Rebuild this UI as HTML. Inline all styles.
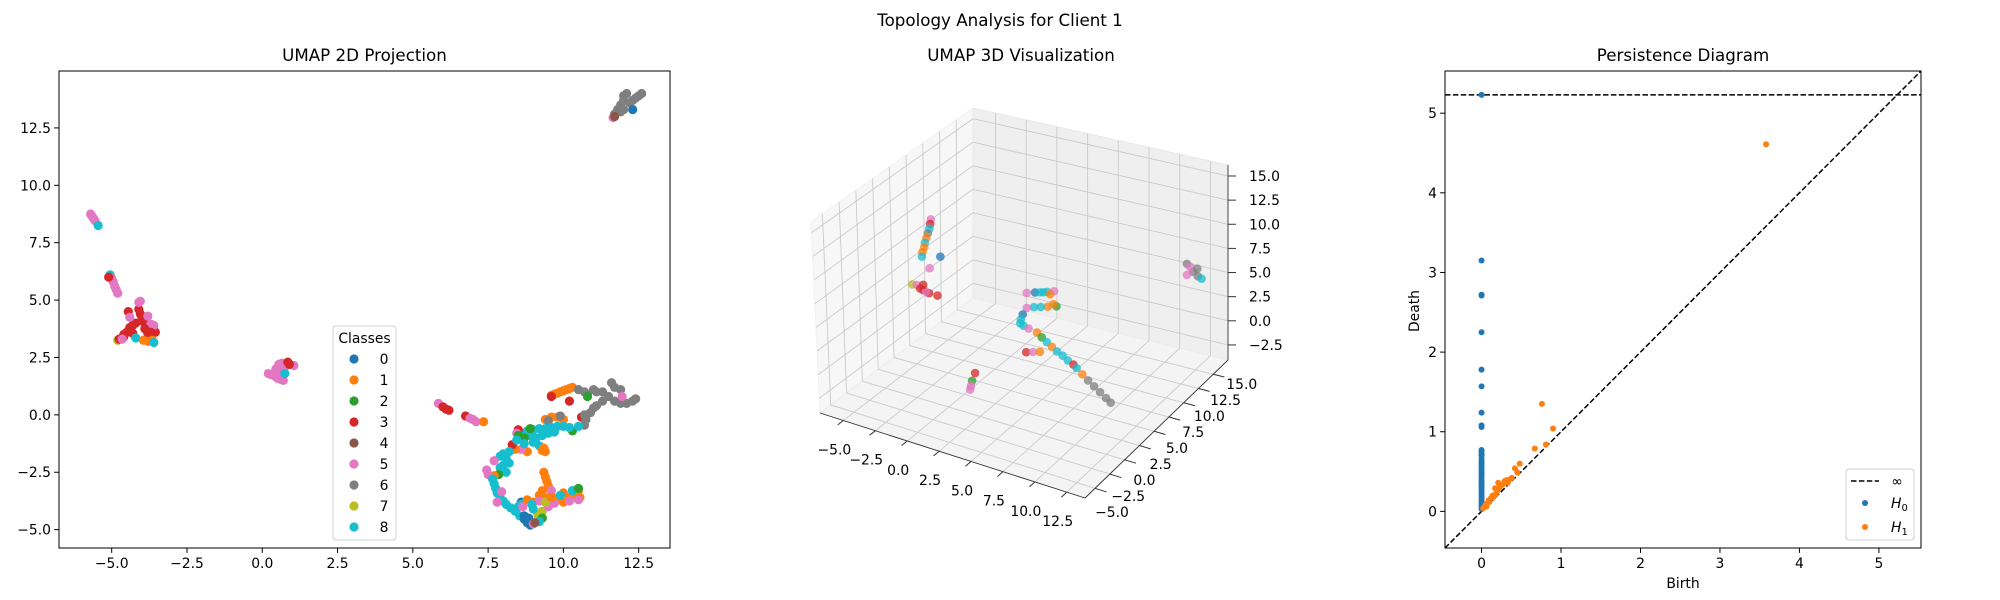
<!DOCTYPE html>
<html><head><meta charset="utf-8"><style>
html,body{margin:0;padding:0;background:#fff;}
svg{display:block;font-family:"DejaVu Sans","Liberation Sans",sans-serif;}
</style></head><body>
<svg id="fig" xmlns="http://www.w3.org/2000/svg" width="2000" height="600" viewBox="0 0 2000 600">
<rect x="0" y="0" width="2000" height="600" fill="#fff"/>
<text x="1000" y="26" font-size="16.7" text-anchor="middle">Topology Analysis for Client 1</text>
<g id="p2d"></g>
<g id="p3d"></g>
<g id="ppd"></g>
</svg>
<script>
const palette=["#1f77b4","#ff7f0e","#2ca02c","#d62728","#8c564b","#e377c2","#7f7f7f","#bcbd22","#17becf"];
const classLabels=["0","1","2","3","4","5","6","7","8"];
const ticks2dX=[-5,-2.5,0,2.5,5,7.5,10,12.5];
const ticks2dY=[-5,-2.5,0,2.5,5,7.5,10,12.5];
const umap2d=[
[11.7,13.1,6],[11.8,13.3,6],[11.9,13.5,6],[12.0,13.7,6],[12.0,13.9,6],[12.1,14.0,6],[12.2,13.6,6],[12.4,13.8,6],[12.5,13.9,6],[12.6,14.0,6],[12.3,13.7,6],[11.9,13.2,6],[12.0,13.3,6],[12.3,13.3,0],[11.65,12.95,5],[11.7,13.0,4],
[-5.7,8.75,5],[-5.65,8.65,5],[-5.6,8.55,5],[-5.55,8.45,5],[-5.45,8.25,8],
[-5.05,6.1,8],[-5.0,5.95,5],[-4.95,5.8,5],[-4.9,5.6,5],[-4.85,5.45,5],[-4.8,5.3,5],[-5.1,6.0,3],
[-4.8,3.25,7],[-4.75,3.3,3],[-4.6,3.4,3],[-4.5,3.6,3],[-4.4,3.8,3],[-4.3,3.9,3],[-4.2,4.0,3],[-4.0,4.1,3],[-3.9,4.0,3],[-3.8,3.9,3],[-3.6,3.7,3],[-3.55,3.6,3],[-4.1,4.6,3],[-4.05,4.4,3],[-4.0,4.3,3],[-4.45,4.5,3],[-4.4,4.25,5],[-4.1,4.9,5],[-4.05,4.95,5],[-3.8,4.3,5],[-3.7,3.95,5],[-3.6,3.9,5],[-3.9,3.75,3],[-4.6,3.5,3],[-4.3,3.55,3],[-3.8,3.55,3],[-3.7,3.6,3],[-4.2,3.35,8],[-3.95,3.25,1],[-3.8,3.2,1],[-3.65,3.25,1],[-3.6,3.15,8],[-4.65,3.3,5],
[0.2,1.8,5],[0.3,1.75,5],[0.4,1.7,5],[0.5,1.6,5],[0.6,1.55,5],[0.7,1.5,5],[0.45,2.0,5],[0.55,2.2,5],[0.65,2.25,5],[0.75,2.1,5],[0.9,2.2,5],[1.05,2.15,5],[0.6,1.9,5],[0.75,1.8,8],[0.85,2.3,3],[0.9,2.2,3],
[5.85,0.5,5],[6.0,0.35,3],[6.1,0.25,3],[6.2,0.2,3],[6.75,-0.05,3],[6.9,-0.15,5],[7.0,-0.2,5],[7.1,-0.3,5],[7.35,-0.3,1],
[9.6,0.85,1],[9.7,0.9,1],[9.8,0.95,1],[9.9,1.0,1],[10.0,1.05,1],[10.1,1.1,1],[10.2,1.15,1],[10.3,1.2,1],[9.6,0.8,3],
[10.5,1.1,6],[10.7,1.0,6],[10.8,0.9,6],[11.0,1.1,6],[11.1,1.0,6],[11.3,1.0,6],[11.6,1.4,6],[11.7,1.2,6],[11.9,1.1,6],[11.5,0.8,6],[11.3,0.6,6],[11.1,0.4,6],[11.0,0.3,6],[10.9,0.1,6],[11.7,0.6,6],[11.9,0.5,6],[12.1,0.5,6],[12.3,0.6,6],[12.4,0.7,6],[11.95,0.8,5],[10.8,0.8,2],[10.2,0.6,3],
[9.4,-0.2,1],[9.6,-0.1,1],[9.8,-0.1,1],[10.0,-0.2,1],[9.5,-0.25,6],[9.9,-0.05,6],[10.6,-0.1,3],[10.7,0.0,6],[10.75,-0.2,6],[10.7,-0.45,6],[10.3,-0.7,2],[10.5,-0.5,8],
[8.6,-0.8,8],[8.8,-0.7,8],[9.0,-0.65,8],[9.2,-0.6,8],[9.4,-0.6,8],[9.6,-0.55,8],[9.8,-0.5,8],[10.0,-0.5,8],[10.2,-0.55,8],[8.9,-0.9,8],[9.1,-1.0,8],[9.3,-0.9,8],[9.5,-0.8,8],[9.7,-0.75,8],[9.0,-1.2,8],[9.2,-1.35,8],[8.7,-1.0,2],[8.9,-0.6,2],[8.5,-0.65,3],[8.45,-0.8,5],[8.5,-0.9,2],[9.35,-1.45,1],[9.4,-1.6,1],[9.3,-1.55,1],[8.8,-1.6,1],[8.6,-1.5,5],[8.4,-1.5,1],[8.3,-1.3,3],[8.7,-1.25,8],[8.45,-1.1,8],
[8.2,-1.6,8],[8.0,-1.7,8],[7.9,-1.8,8],[8.1,-1.9,8],[8.2,-2.1,8],[8.0,-2.2,8],[7.9,-2.3,8],[8.1,-2.5,8],[7.85,-2.6,2],[7.7,-2.65,1],[7.5,-2.6,5],[7.45,-2.4,5],[7.7,-2.0,5],[7.65,-2.8,8],[7.7,-3.0,8],[7.75,-3.2,8],[7.8,-3.4,8],[7.9,-3.6,8],[8.0,-3.75,8],[8.1,-3.9,8],[8.25,-4.05,8],[8.4,-4.2,8],[8.55,-4.4,8],[8.7,-4.55,0],[8.8,-4.7,0],[8.9,-4.8,0],[8.7,-4.4,0],[8.6,-3.8,0],[8.85,-4.5,0],[9.0,-4.75,5],[9.2,-4.6,8],[8.5,-4.0,8],[7.95,-3.35,5],[7.8,-3.8,5],[8.6,-3.9,8],[8.65,-4.0,5],
[9.35,-2.5,1],[9.4,-2.7,1],[9.45,-2.9,1],[9.5,-3.1,1],[9.3,-3.3,1],[9.2,-3.5,1],[9.4,-3.6,1],[9.6,-3.5,1],[9.8,-3.7,1],[10.0,-3.8,1],[10.2,-3.6,1],[10.4,-3.5,1],[10.5,-3.3,1],[10.55,-3.6,1],[10.3,-3.3,8],[10.5,-3.2,2],[10.0,-3.4,1],[9.0,-3.8,1],[8.8,-3.7,1],[9.7,-3.85,5],[10.2,-3.75,5],[10.5,-3.7,5],[9.6,-3.3,5],[9.2,-3.75,5],[8.95,-3.9,8],[9.15,-4.35,7],[9.3,-4.2,7],[9.5,-4.0,5],[9.4,-3.8,7],[9.3,-4.5,2],[9.2,-4.65,8],[9.05,-4.7,4],[9.0,-4.1,8],[9.6,-3.6,1],[9.9,-3.5,8]
];
const ticks3dX=[-5,-2.5,0,2.5,5,7.5,10,12.5];
const ticks3dY=[-5,-2.5,0,2.5,5,7.5,10,12.5,15];
const ticks3dZ=[-2.5,0,2.5,5,7.5,10,12.5,15];
const umap3d=[
[-3.3,4.3,12.2,5],[-3.35,4.3,11.7,3],[-3.4,4.25,11.2,8],[-3.5,4.2,10.7,6],[-3.6,4.15,10.2,1],[-3.7,4.1,9.7,8],[-3.75,4.1,9.2,1],[-3.85,4.0,8.7,1],[-3.9,4.0,8.2,8],[-3.6,4.56,6.8,5],[-2.4,3.9,8.8,0],
[-4.25,3.1,5.6,7],[-4.1,3.5,5.4,5],[-3.9,4.1,4.6,3],[-3.7,4.6,4.1,3],[-3.4,5.3,3.6,3],[-4.0,3.8,4.9,3],[-3.8,4.3,4.4,5],[-3.95,4.2,5.1,3],
[3.03,6.6,5.5,5],[3.5,7.0,5.5,0],[3.8,7.2,5.5,8],[4.0,7.35,5.5,8],[4.2,7.55,5.5,8],[4.57,7.9,5.5,5],[4.4,7.6,5.3,1],[5.1,7.2,4.5,2],[4.9,7.1,4.7,1],[4.6,6.8,4.5,1],[4.2,6.5,4.5,8],[3.8,6.2,4.5,8],[3.43,5.8,4.5,5],[3.3,5.4,4.0,0],[3.35,5.0,3.7,8],[3.44,4.7,3.5,8],[3.6,4.9,3.2,8],[3.9,5.1,2.9,5],[4.42,5.4,2.5,1],[4.7,5.6,2.0,2],[5.0,5.8,1.5,8],[5.5,5.6,1.3,1],[6.0,5.4,1.1,8],[6.5,5.3,0.9,8],[7.0,5.1,0.7,8],[7.5,5.0,0.5,3],[7.8,4.9,0.3,8],[8.3,4.8,-0.1,1],[8.8,4.7,-0.5,6],[9.3,4.65,-0.9,6],[9.8,4.6,-1.3,6],[10.3,4.55,-1.7,6],[10.7,4.5,-2.0,6],
[3.8,4.9,0.5,3],[4.2,5.2,0.5,5],[4.6,5.5,0.5,1],
[1.57,1.16,-0.5,3],[1.8,0.2,-0.7,2],[2.1,-0.74,-1.0,5],[1.95,-0.3,-0.9,5],
[12.5,13.5,7.8,6],[12.9,13.7,7.0,6],[13.2,13.9,6.5,6],[13.4,14.1,6.2,8],[12.7,13.6,7.5,5],[13.1,14.0,7.2,6],[12.6,13.3,6.8,5]
];
const ticksPD=[0,1,2,3,4,5];
const infDeath=5.23;
const h0Deaths=[5.23,3.15,2.72,2.71,2.25,1.78,1.57,1.24,1.08,1.06,0.77,0.75,0.72,0.7,0.66,0.63,0.6,0.57,0.54,0.51,0.48,0.45,0.42,0.39,0.36,0.33,0.3,0.27,0.24,0.21,0.18,0.15,0.12,0.09,0.06,0.03];
const h1Births=[0.02,0.03,0.05,0.06,0.07,0.09,0.1,0.12,0.14,0.15,0.17,0.18,0.2,0.21,0.23,0.25,0.27,0.29,0.31,0.33,0.35,0.38,0.42,0.45,0.48,0.67,0.81,0.76,0.9,3.58];
const h1Deaths=[0.04,0.05,0.08,0.06,0.1,0.14,0.12,0.17,0.2,0.18,0.29,0.22,0.26,0.36,0.3,0.33,0.34,0.38,0.39,0.36,0.4,0.42,0.54,0.49,0.6,0.79,0.84,1.35,1.04,4.61];

const NS="http://www.w3.org/2000/svg";
function mk(parent,tag,attrs,text){const e=document.createElementNS(NS,tag);for(const k in attrs)e.setAttribute(k,attrs[k]);if(text!==undefined)e.textContent=text;parent.appendChild(e);return e;}
function fmt1(v){return (v<0?"\u2212":"")+Math.abs(v).toFixed(1);}
function fmt0(v){return (v<0?"\u2212":"")+Math.abs(v).toFixed(0);}

/* ---------- 2D panel ---------- */
(function(){
const g=document.getElementById('p2d');
const L=59,R=670,T=71,B=548,xmin=-6.75,xmax=13.54,ymin=-5.8,ymax=14.98;
const sx=v=>L+(v-xmin)/(xmax-xmin)*(R-L);
const sy=v=>B-(v-ymin)/(ymax-ymin)*(B-T);
let t=mk(g,'text',{x:(L+R)/2,y:61,'font-size':16.7,'text-anchor':'middle'},'UMAP 2D Projection');

umap2d.forEach(p=>{const c=mk(g,'circle',{cx:sx(p[0]),cy:sy(p[1]),r:4.6,fill:palette[p[2]]});
});
let fr=mk(g,'rect',{x:L,y:T,width:R-L,height:B-T,fill:'none',stroke:'#000','stroke-width':1});

ticks2dX.forEach(v=>{const x=sx(v);const l=mk(g,'line',{x1:x,x2:x,y1:B,y2:B+4.9,stroke:'#000'});

const tx=mk(g,'text',{x:x,y:B+20,'font-size':13.9,'text-anchor':'middle'},fmt1(v));
});
ticks2dY.forEach(v=>{const y=sy(v);const l=mk(g,'line',{x1:L-4.9,x2:L,y1:y,y2:y,stroke:'#000'});

const tx=mk(g,'text',{x:L-8,y:y+5,'font-size':13.9,'text-anchor':'end'},fmt1(v));
});
const lg=mk(g,'g',{});
const lb=mk(lg,'rect',{x:333,y:326,width:63,height:214,rx:3,fill:'#fff','fill-opacity':0.8,stroke:'#d0d0d0'});

const lt=mk(lg,'text',{x:364.5,y:343,'font-size':13.9,'text-anchor':'middle'},'Classes');

classLabels.forEach((lab,i)=>{const y=359+i*21;
const c=mk(lg,'circle',{cx:354,cy:y,r:4.6,fill:palette[i]});
const tx=mk(lg,'text',{x:384,y:y+5,'font-size':13.9,'text-anchor':'middle'},lab);});
})();

/* ---------- 3D panel ---------- */
(function(){
const g=document.getElementById('p3d');
const xmin=-6.83,xmax=13.93,ymin=-6.7,ymax=17.5,zmin=-4.06,zmax=16.14;
const A0=[820,413],B0=[1085,498],C0=[1228,360],D0=[973,298];
const A1=[811,222],B1=[1088,302],C1=[1228,165],D1=[973,108];
function bil(a,b,c,d,u,v){return [a[0]*(1-u)*(1-v)+b[0]*u*(1-v)+c[0]*u*v+d[0]*(1-u)*v, a[1]*(1-u)*(1-v)+b[1]*u*(1-v)+c[1]*u*v+d[1]*(1-u)*v];}
function P(x,y,z){const u=(x-xmin)/(xmax-xmin),v=(y-ymin)/(ymax-ymin),w=(z-zmin)/(zmax-zmin);
const lo=bil(A0,B0,C0,D0,u,v),hi=bil(A1,B1,C1,D1,u,v);return [lo[0]*(1-w)+hi[0]*w, lo[1]*(1-w)+hi[1]*w];}
const pts=a=>a.map(p=>p[0].toFixed(1)+','+p[1].toFixed(1)).join(' ');
let t=mk(g,'text',{x:1021,y:61,'font-size':16.7,'text-anchor':'middle'},'UMAP 3D Visualization');

let p1=mk(g,'polygon',{points:pts([A0,D0,D1,A1]),fill:'#f7f7f7',stroke:'#f0f0f0'});
let p2=mk(g,'polygon',{points:pts([D0,C0,C1,D1]),fill:'#efefef',stroke:'#e8e8e8'});
let p3=mk(g,'polygon',{points:pts([A0,B0,C0,D0]),fill:'#f4f4f4',stroke:'#ececec'});
function gl(a,b,name){const l=mk(g,'line',{x1:a[0],y1:a[1],x2:b[0],y2:b[1],stroke:'#cbcbcb','stroke-width':0.9});}
ticks3dX.forEach(v=>{gl(P(v,ymin,zmin),P(v,ymax,zmin),'floor-grid-x');gl(P(v,ymax,zmin),P(v,ymax,zmax),'back-grid-x');});
ticks3dY.forEach(v=>{gl(P(xmin,v,zmin),P(xmax,v,zmin),'floor-grid-y');gl(P(xmin,v,zmin),P(xmin,v,zmax),'left-grid-y');});
ticks3dZ.forEach(v=>{gl(P(xmin,ymin,v),P(xmin,ymax,v),'left-grid-z');gl(P(xmin,ymax,v),P(xmax,ymax,v),'back-grid-z');});
function ax(a,b,name){const l=mk(g,'line',{x1:a[0],y1:a[1],x2:b[0],y2:b[1],stroke:'#333','stroke-width':0.9});}
ax(A0,B0,'x-axis-line');ax(B0,C0,'y-axis-line');ax(C0,C1,'z-axis-line');
ticks3dX.forEach(v=>{const p=P(v,ymin,zmin);const q=P(v,ymin-0.9,zmin);
const l=mk(g,'line',{x1:p[0],y1:p[1],x2:q[0],y2:q[1],stroke:'#333'});
const tx=mk(g,'text',{x:p[0]-9,y:p[1]+34,'font-size':13.9,'text-anchor':'middle'},fmt1(v));});
ticks3dY.forEach(v=>{const p=P(xmax,v,zmin);const q=P(xmax+0.9,v,zmin);const f=(v-ymin)/(ymax-ymin);
const l=mk(g,'line',{x1:p[0],y1:p[1],x2:q[0],y2:q[1],stroke:'#333'});
const tx=mk(g,'text',{x:p[0]+16+f*14,y:p[1]+30-f*17,'font-size':13.9,'text-anchor':'middle'},fmt1(v));});
ticks3dZ.forEach(v=>{const p=P(xmax,ymax,v);
const l=mk(g,'line',{x1:p[0],y1:p[1],x2:p[0]+8,y2:p[1],stroke:'#333'});
const tx=mk(g,'text',{x:p[0]+21,y:p[1]+5,'font-size':13.9,'text-anchor':'start'},fmt1(v));});
umap3d.forEach(p=>{const s=P(p[0],p[1],p[2]);const c=mk(g,'circle',{cx:s[0],cy:s[1],r:4.3,fill:palette[p[3]],'fill-opacity':0.75});
});
})();

/* ---------- Persistence panel ---------- */
(function(){
const g=document.getElementById('ppd');
const L=1445,R=1921,T=71,B=548,mn=-0.46,mx=5.53;
const sx=v=>L+(v-mn)/(mx-mn)*(R-L);
const sy=v=>B-(v-mn)/(mx-mn)*(B-T);
let t=mk(g,'text',{x:(L+R)/2,y:61,'font-size':16.7,'text-anchor':'middle'},'Persistence Diagram');

let d=mk(g,'line',{x1:sx(mn),y1:sy(mn),x2:sx(mx),y2:sy(mx),stroke:'#000','stroke-width':1.5,'stroke-dasharray':'5.5,2.4'});

let inf=mk(g,'line',{x1:L,y1:sy(infDeath),x2:R,y2:sy(infDeath),stroke:'#000','stroke-width':1.5,'stroke-dasharray':'5.5,2.4'});

h0Deaths.forEach(v=>{const c=mk(g,'circle',{cx:sx(0),cy:sy(v),r:3,fill:palette[0]});});
h1Births.forEach((b,i)=>{const c=mk(g,'circle',{cx:sx(b),cy:sy(h1Deaths[i]),r:3,fill:palette[1]});});
let fr=mk(g,'rect',{x:L,y:T,width:R-L,height:B-T,fill:'none',stroke:'#000','stroke-width':1});

ticksPD.forEach(v=>{const x=sx(v);const l=mk(g,'line',{x1:x,x2:x,y1:B,y2:B+4.9,stroke:'#000'});
const tx=mk(g,'text',{x:x,y:B+20,'font-size':13.9,'text-anchor':'middle'},fmt0(v));
const y=sy(v);const l2=mk(g,'line',{x1:L-4.9,x2:L,y1:y,y2:y,stroke:'#000'});
const ty=mk(g,'text',{x:L-8,y:y+5,'font-size':13.9,'text-anchor':'end'},fmt0(v));});
let xl=mk(g,'text',{x:(L+R)/2,y:588,'font-size':13.9,'text-anchor':'middle'},'Birth');
let yl=mk(g,'text',{x:1419,y:311,'font-size':13.9,'text-anchor':'middle',transform:'rotate(-90 1419 311)'},'Death');
const lg=mk(g,'g',{});
const lb=mk(lg,'rect',{x:1846,y:469,width:68,height:71,rx:3,fill:'#fff','fill-opacity':0.8,stroke:'#d0d0d0'});
const ll=mk(lg,'line',{x1:1851,x2:1879,y1:481,y2:481,stroke:'#000','stroke-width':1.5,'stroke-dasharray':'5.5,2.4'});
const li=mk(lg,'text',{x:1897,y:486,'font-size':13.9,'text-anchor':'middle'},'\u221e');
const m0=mk(lg,'circle',{cx:1865,cy:503,r:3,fill:palette[0]});
const t0=mk(lg,'text',{x:1891,y:508,'font-size':13.9,'font-style':'italic'},'H');
mk(t0,'tspan',{'font-size':10,'font-style':'normal',dy:3},'0');
const m1=mk(lg,'circle',{cx:1865,cy:527,r:3,fill:palette[1]});
const t1=mk(lg,'text',{x:1891,y:532,'font-size':13.9,'font-style':'italic'},'H');
mk(t1,'tspan',{'font-size':10,'font-style':'normal',dy:3},'1');
})();
</script>
</body></html>
